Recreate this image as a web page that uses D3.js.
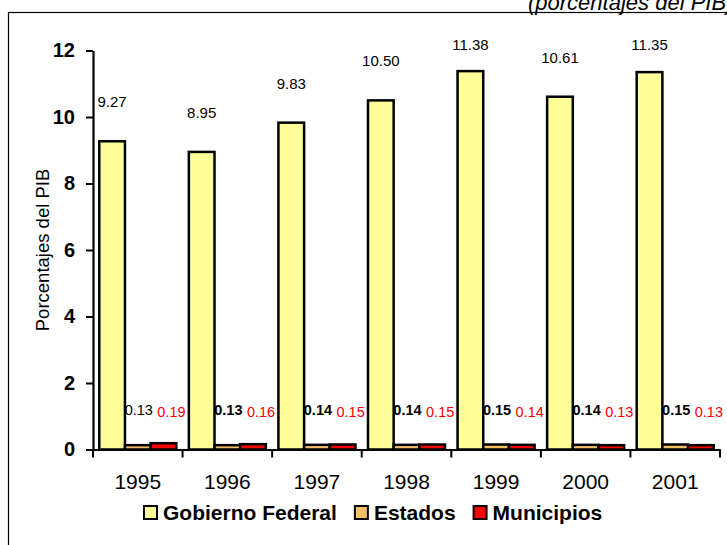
<!DOCTYPE html>
<html lang="es">
  <head>
    <meta charset="utf-8">
    <script type="text/javascript" src="https://d3js.org/d3.v7.min.js"></script>
    <style>
      body { margin: 0; background: white; }
      svg { display: block; font-family: Arial, "Liberation Sans", sans-serif; }
    </style>
  </head>
  <body>
    <script type="text/javascript">

    // Data
    var years = ["1995", "1996", "1997", "1998", "1999", "2000", "2001"];
    var series = ["Gobierno Federal", "Estados", "Municipios"];
    var federal = [9.27, 8.95, 9.83, 10.50, 11.38, 10.61, 11.35];
    var estados = [0.13, 0.13, 0.14, 0.14, 0.15, 0.14, 0.15];
    var municipios = [0.19, 0.16, 0.15, 0.15, 0.14, 0.13, 0.13];
    var yTicks = [0, 2, 4, 6, 8, 10, 12];

    var colors = {"Gobierno Federal": "#FFFF99", "Estados": "#F4BF66", "Municipios": "#FF0000"};

    // Build one row per year
    var dataset = years.map(function(y, i) {
      return {year: y, values: [
        {key: "Gobierno Federal", value: federal[i]},
        {key: "Estados", value: estados[i]},
        {key: "Municipios", value: municipios[i]}
      ]};
    });

    var svgW = 727;
    var svgH = 545;

    var svg = d3.select("body")
                .append("svg")
                  .attr("width", svgW)
                  .attr("height", svgH);

    // Outer frame (runs off the page at right and bottom)
    svg.append("rect")
        .attr("x", 8.5)
        .attr("y", 12.5)
        .attr("width", 800)
        .attr("height", 600)
        .attr("fill", "none")
        .attr("stroke", "black")
        .attr("stroke-width", 1.2);

    // Title, runs past the right edge as in the original
    svg.append("text")
        .attr("x", 528)
        .attr("y", 10)
        .style("font-size", "22px")
        .style("font-style", "italic")
        .text("(porcentajes del PIB)");

    // Scales
    var yScale = d3.scaleLinear()
                    .domain([0, 12])
                    .range([449.5, 50.5]);

    var x0 = d3.scaleBand()
                .domain(years)
                .range([93, 720])
                .paddingInner(0.14)
                .paddingOuter(0.07);

    var x1 = d3.scaleBand()
                .domain(series)
                .range([0, x0.bandwidth()]);

    // Bars
    var groups = svg.selectAll("g.year")
                    .data(dataset)
                    .enter()
                    .append("g")
                      .attr("class", "year")
                      .attr("transform", function(d) { return "translate(" + x0(d.year) + ",0)"; });

    groups.selectAll("rect")
          .data(function(d) { return d.values; })
          .enter()
          .append("rect")
            .attr("x", function(d) { return x1(d.key); })
            .attr("y", function(d) { return yScale(d.value); })
            .attr("width", x1.bandwidth())
            .attr("height", function(d) { return yScale(0) - yScale(d.value); })
            .attr("fill", function(d) { return colors[d.key]; })
            .attr("stroke", "black")
            .attr("stroke-width", 2.5);

    // Y axis
    var yAxis = d3.axisLeft(yScale)
                  .tickValues(yTicks)
                  .tickFormat(d3.format("d"))
                  .tickSize(7)
                  .tickSizeOuter(0)
                  .tickPadding(11);

    var gy = svg.append("g")
                .attr("transform", "translate(93,0)")
                .call(yAxis);
    gy.select(".domain").attr("stroke-width", 2.2);
    gy.selectAll(".tick line").attr("stroke-width", 2);
    gy.selectAll(".tick text")
      .style("font-size", "20px")
      .style("font-weight", "bold")
      .attr("fill", "black");

    // X axis: labels centred, tick marks between the year groups
    var xAxis = d3.axisBottom(x0)
                  .tickSize(0)
                  .tickSizeOuter(0)
                  .tickPadding(25);

    var gx = svg.append("g")
                .attr("transform", "translate(0," + yScale(0) + ")")
                .call(xAxis);
    gx.select(".domain").attr("stroke-width", 2.2);
    gx.selectAll(".tick text")
      .style("font-size", "21px")
      .attr("fill", "black");

    var step = x0.step();
    var bounds = years.map(function(y) { return x0(y) - step * 0.07; });
    bounds.push(bounds[bounds.length - 1] + step);
    gx.selectAll("line.sep")
      .data(bounds)
      .enter()
      .append("line")
        .attr("class", "sep")
        .attr("x1", function(d) { return d; })
        .attr("x2", function(d) { return d; })
        .attr("y1", 0)
        .attr("y2", 8)
        .attr("stroke", "black")
        .attr("stroke-width", 2);

    // Y axis title
    svg.append("text")
        .attr("transform", "translate(49,250) rotate(-90)")
        .style("text-anchor", "middle")
        .style("font-size", "18.5px")
        .text("Porcentajes del PIB");

    // Value labels, Gobierno Federal above the bars
    groups.append("text")
          .attr("x", function(d) { return x1("Gobierno Federal") + x1.bandwidth() / 2; })
          .attr("y", function(d) { return Math.max(yScale(d.values[0].value) - 39, 45) + 5; })
          .style("text-anchor", "middle")
          .style("font-size", "15px")
          .text(function(d) { return d.values[0].value.toFixed(2); });

    // Estados labels
    groups.append("text")
          .attr("x", function(d) { return x1("Estados") + x1.bandwidth() / 2 + 1; })
          .attr("y", 415)
          .style("text-anchor", "middle")
          .style("font-size", "14.5px")
          .style("font-weight", function(d, i) { return i > 0 ? "bold" : "normal"; })
          .text(function(d) { return d.values[1].value.toFixed(2); });

    // Municipios labels
    groups.append("text")
          .attr("x", function(d) { return x1("Municipios") + x1.bandwidth() / 2 + 8; })
          .attr("y", 417)
          .style("text-anchor", "middle")
          .style("font-size", "14.5px")
          .attr("fill", "#FF0000")
          .text(function(d) { return d.values[2].value.toFixed(2); });

    // Legend
    var legend = svg.append("g")
                    .attr("transform", "translate(143,0)");
    var lx = 0;
    series.forEach(function(s) {
      legend.append("rect")
            .attr("x", lx + 1)
            .attr("y", 506)
            .attr("width", 13)
            .attr("height", 13)
            .attr("fill", colors[s])
            .attr("stroke", "black")
            .attr("stroke-width", 2);
      var t = legend.append("text")
                    .attr("x", lx + 20)
                    .attr("y", 520)
                    .style("font-size", "21px")
                    .style("font-weight", "bold")
                    .text(s);
      lx += 20 + t.node().getComputedTextLength() + 17;
    });

    </script>
  </body>
</html>
